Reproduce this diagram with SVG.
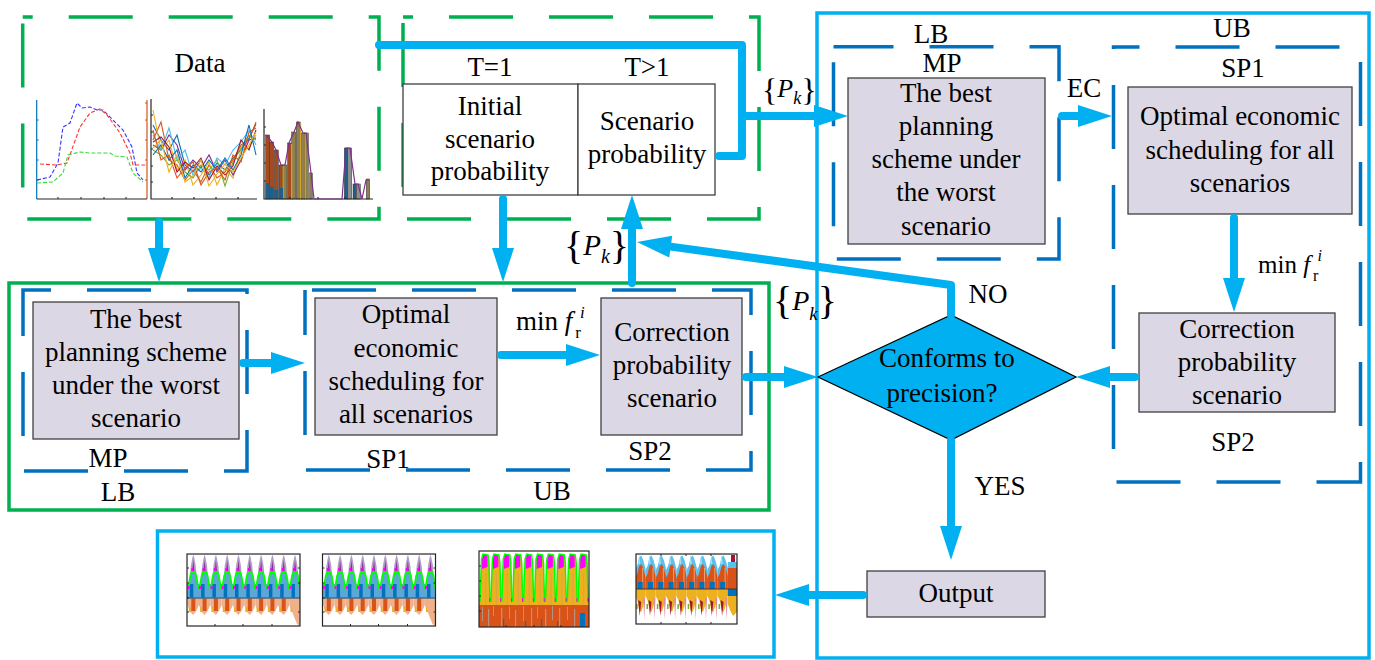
<svg xmlns="http://www.w3.org/2000/svg" xmlns:xlink="http://www.w3.org/1999/xlink" width="1375" height="660" viewBox="0 0 1375 660" font-family="'Liberation Serif', 'DejaVu Serif', serif">
<style>
text{font-family:'Liberation Serif','DejaVu Serif',serif}
.t{font-size:27px;fill:#000;text-anchor:middle}
.s{fill:#000}
.it{font-style:italic}
.box{fill:#DCD7E5;stroke:#3F3F3F;stroke-width:1.3}
.wbox{fill:#fff;stroke:#3F3F3F;stroke-width:1.3}
.gdash{fill:none;stroke:#00B050;stroke-width:3.5;stroke-dasharray:64 36}
.bdash{fill:none;stroke:#0070C0;stroke-width:3.5;stroke-dasharray:64 36}
.panel{fill:none;stroke:#00B0F0;stroke-width:3.5}
.conn{fill:none;stroke:#00B0F0;stroke-width:8;stroke-linecap:round;stroke-linejoin:round}
.frame{fill:none;stroke:#262626;stroke-width:1.2}
.ln{fill:none;stroke-width:1.1}
</style>
<defs>
<marker id="ah" markerUnits="userSpaceOnUse" markerWidth="34" markerHeight="22" viewBox="0 0 34 22" refX="0" refY="11" orient="auto" overflow="visible">
<path d="M0,0 L34,11 L0,22 Z" fill="#00B0F0"/>
</marker>
<clipPath id="cA"><rect width="113" height="72"/></clipPath>
<clipPath id="cC"><rect width="110" height="76"/></clipPath>
<clipPath id="cD"><rect width="101" height="70"/></clipPath>
<g id="perA">
<polygon points="-5.65,44 -5.65,51 -3,58 0,61 3,57 5.65,51 5.65,44" fill="#EFB08A"/>
<rect x="-4.5" y="53" width="2" height="5" fill="#EDB120"/>
<rect x="-2" y="44" width="4" height="13" fill="#D95319"/>
<polygon points="-4,30 -2.5,12 -1,4 0,0.5 1,4 2.5,12 4,30" fill="#B59BCB"/>
<polygon points="-1.5,22 0,6 1.5,22" fill="#7E2F8E"/>
<polygon points="-4.5,30 -2.5,21 0,17 2.5,21 4.5,30" fill="#5AA7D8"/>
<rect x="-3.5" y="30" width="3.5" height="14" fill="#0072BD"/>
<polyline points="-5.65,34 -5,34 -3,22 -1.5,18 1.5,18 3,22 5,34 5.65,34" fill="none" stroke="#00FF00" stroke-width="1.8"/>
<rect x="-5.5" y="32" width="2" height="3" fill="#FF00FF"/>
<rect x="-2" y="14" width="2" height="3" fill="#FF00FF"/>
</g>
<g id="chartA">
<rect width="113" height="72" fill="#fff"/>
<g clip-path="url(#cA)">
<rect x="0" y="30" width="113" height="14" fill="#5AA7D8"/>
<use href="#perA" x="6.3"/><use href="#perA" x="17.6"/><use href="#perA" x="28.9"/><use href="#perA" x="40.2"/><use href="#perA" x="51.5"/>
<use href="#perA" x="62.8"/><use href="#perA" x="74.1"/><use href="#perA" x="85.4"/><use href="#perA" x="96.7"/><use href="#perA" x="108"/>
<polygon points="102,44 113,44 113,72 110,70 106,60" fill="#EFB08A"/>
<line x1="0" y1="44" x2="113" y2="44" stroke="#4A6A88" stroke-width="1.6"/>
</g>
<rect class="frame" width="113" height="72"/>
<path d="M28,72v-2M56,72v-2M85,72v-2M0,14h2M0,29h2M0,44h2M0,58h2M113,14h-2M113,29h-2M113,58h-2" stroke="#262626" stroke-width="1"/>
</g>
<g id="perC">
<polygon points="-5.45,54 -5.45,50 -5,50 -3.5,8 -2,3 3,4 4,12 5,50 5.45,50 5.45,54" fill="#EDB120"/>
<rect x="0" y="22" width="1.2" height="32" fill="#D9A050" opacity="0.7"/>
<polygon points="-3.3,9 -2,3.5 2.5,4.5 2.5,16 -3,18" fill="#FF00FF"/>
<polyline points="-5.45,50 -5,50 -3.5,8 -2,3 3,4 4,12 5,50 5.45,50" fill="none" stroke="#00FF00" stroke-width="1.5"/>
<rect x="4.3" y="47" width="1.5" height="4" fill="#FF00FF"/>
</g>
<g id="perD">
<polygon points="-5.15,35 -5.15,16 -3,12 -1,3 1,1.5 3,6 5.15,14 5.15,35" fill="#5BC0EB"/>
<polygon points="-2,10 -1,0.5 0,10" fill="#A9DDF3"/>
<polygon points="-5.15,35 -5.15,24 -3,20 -1,12 1,10 3,14 5.15,22 5.15,35" fill="#D95319"/>
<rect x="2" y="14" width="1" height="21" fill="#F0A070"/>
<rect x="-2.5" y="28" width="5" height="7" fill="#0072BD"/>
<polygon points="-5.15,35 -5.15,42 -3,46 -1,56 1,58 3,52 5.15,42 5.15,35" fill="#EDB120"/>
<polygon points="-2,46 -0.5,62 1,48" fill="#A2142F"/>
<polygon points="3,44 4,66 5,44" fill="#D98CA0"/>
<rect x="-4" y="50" width="1.5" height="5" fill="#77AC30"/>
</g>
</defs>

<rect width="1375" height="660" fill="#fff"/>

<!-- panels -->
<g id="panels">
<rect x="9" y="283" width="760" height="227" fill="none" stroke="#00B050" stroke-width="3.5"/>
<rect x="157.5" y="531" width="616.5" height="126" class="panel"/>
<rect x="817" y="13" width="552" height="645" class="panel"/>
<rect x="22.7" y="17" width="356.3" height="202" class="gdash" stroke-dashoffset="54"/>
<rect x="403" y="17" width="356" height="202" class="gdash" stroke-dashoffset="54"/>
<rect x="23" y="290" width="224" height="181" class="bdash" stroke-dashoffset="36"/>
<rect x="305" y="290" width="446" height="180" class="bdash" stroke-dashoffset="93"/>
<rect x="833.5" y="46.7" width="225.5" height="212.3" class="bdash" stroke-dashoffset="4"/>
<rect x="1113.5" y="47" width="247" height="435" class="bdash" stroke-dashoffset="38"/>
</g>

<!-- Data node -->
<g id="data">
<text class="t" x="200" y="72">Data</text>
<g id="chart-load">
<line x1="36.7" y1="100" x2="36.7" y2="199" stroke="#0072BD" stroke-width="1.2"/>
<line x1="147" y1="100" x2="147" y2="199" stroke="#D95319" stroke-width="1.2"/>
<line x1="36.7" y1="199" x2="147" y2="199" stroke="#262626" stroke-width="1.2"/>
<path d="M36.7,120h2M36.7,140h2M36.7,160h2M36.7,180h2" stroke="#0072BD" stroke-width="1"/>
<path d="M147,103h-2M147,120h-2M147,140h-2M147,160h-2M147,180h-2" stroke="#D95319" stroke-width="1"/>
<path d="M58,199v-2M81,199v-2M104,199v-2M126,199v-2" stroke="#262626" stroke-width="1"/>
<polyline class="ln" stroke="#3333FF" stroke-dasharray="4 2" points="37,180 50,177 58,163 63,127 70,123 77,103 82,108 90,107 97,110 103,110 113,120 123,130 132,147 137,173 143,180"/>
<polyline class="ln" stroke="#FF3333" stroke-dasharray="4 2" points="40,164 57,165 67,163 80,127 90,113 100,109 107,115 120,133 130,153 133,165 147,165"/>
<polyline class="ln" stroke="#33DD33" stroke-dasharray="4 2" points="37,183 53,182 63,173 68,155 80,152 90,153 110,153 115,156 127,157 133,173 143,182"/>
</g>
<g id="chart-scen">
<path d="M151,99V199H257M151,115h2M151,132h2M151,149h2M151,166h2M151,182h2M172,199v-2M194,199v-2M216,199v-2M238,199v-2" fill="none" stroke="#262626" stroke-width="1.2"/>
<polyline class="ln" stroke="#0072BD" points="153,125 161,140 169,150 177,135 185,165 193,172 201,160 209,175 217,163 225,170 233,158 241,150 249,138 256,124"/>
<polyline class="ln" stroke="#D95319" points="153,140 161,122 169,160 177,165 185,180 193,170 201,182 209,165 217,178 225,172 233,160 241,145 249,140 256,122"/>
<polyline class="ln" stroke="#EDB120" points="153,110 161,150 169,140 177,170 185,160 193,185 201,175 209,162 217,185 225,168 233,178 241,150 249,148 256,135"/>
<polyline class="ln" stroke="#7E2F8E" points="153,145 161,150 169,135 177,145 185,170 193,160 201,168 209,155 217,172 225,160 233,175 241,160 249,140 256,138"/>
<polyline class="ln" stroke="#77AC30" points="153,150 161,155 169,165 177,160 185,172 193,178 201,165 209,170 217,160 225,186 233,162 241,148 249,135 256,140"/>
<polyline class="ln" stroke="#4DBEEE" points="153,135 161,150 169,128 177,160 185,150 193,175 201,168 209,178 217,158 225,165 233,150 241,142 249,130 256,145"/>
<polyline class="ln" stroke="#A2142F" points="153,142 161,137 169,147 177,172 185,162 193,168 201,158 209,180 217,166 225,175 233,166 241,140 249,150 256,130"/>
<polyline class="ln" stroke="#0072BD" points="153,155 161,145 169,160 177,150 185,178 193,165 201,172 209,160 217,170 225,158 233,170 241,155 249,125 256,155"/>
<polyline class="ln" stroke="#D95319" points="153,130 161,160 169,155 177,178 185,168 193,162 201,185 209,172 217,168 225,180 233,155 241,162 249,132 256,128"/>
<polyline class="ln" stroke="#EDB120" points="153,148 161,140 169,172 177,155 185,182 193,176 201,160 209,186 217,174 225,164 233,172 241,158 249,145 256,132"/>
</g>
<g id="chart-bars" stroke="#333" stroke-width="0.5">
<rect x="265.7" y="135" width="4" height="64" fill="#A34A1E"/>
<rect x="269.7" y="142" width="4" height="57" fill="#A34A1E"/>
<rect x="274.3" y="150" width="4" height="49" fill="#A34A1E"/>
<rect x="279" y="165" width="4" height="34" fill="#A34A1E"/>
<rect x="283" y="165" width="4" height="34" fill="#8F8050"/>
<rect x="287.7" y="143" width="3.6" height="56" fill="#A34A1E"/>
<rect x="291.7" y="132" width="4" height="67" fill="#8F8050"/>
<rect x="296.3" y="122" width="4" height="77" fill="#8F8050"/>
<rect x="301" y="133" width="3.4" height="66" fill="#8F8050"/>
<rect x="304.3" y="133" width="4" height="66" fill="#8F8050"/>
<rect x="309.7" y="173" width="2.6" height="26" fill="#8F8050"/>
<rect x="344.3" y="148" width="3.4" height="51" fill="#1F5F8B"/>
<rect x="347.7" y="148" width="4" height="51" fill="#8F8F8F"/>
<rect x="353" y="184" width="3.3" height="15" fill="#1F5F8B"/>
<rect x="356.3" y="184" width="4" height="15" fill="#8F8F8F"/>
<rect x="366.3" y="179" width="3.4" height="20" fill="#8F8050"/>
<g stroke="none">
<rect x="265.7" y="183" width="4" height="16" fill="#1F5F8B"/>
<rect x="269.7" y="187" width="4" height="12" fill="#1F5F8B"/>
<rect x="274.3" y="190" width="4" height="9" fill="#1F5F8B"/>
<rect x="282.6" y="166" width="1" height="33" fill="#EDB120"/>
<rect x="291.2" y="144" width="1" height="55" fill="#EDB120"/>
<rect x="300.2" y="123" width="1" height="76" fill="#EDB120"/>
<rect x="304.6" y="134" width="1" height="65" fill="#EDB120"/>
<rect x="279" y="188" width="4" height="11" fill="#1F5F8B"/>
</g>
<path d="M264,109V199H373M264,127h2M264,145h2M264,163h2M264,181h2M290,199v-2M318,199v-2M345,199v-2" fill="none" stroke="#262626" stroke-width="1.2"/>
<polyline fill="none" stroke="#7E2F8E" stroke-width="1.2" points="266,135 272,142 276,150 281,165 285,165 289,143 294,132 298,122 303,133 306,133 311,173 314,199 342,199 346,148 350,148 355,184 358,184 362,199 366,180 369,180"/>
</g>
</g>

<!-- scenario probability node -->
<g id="prob">
<text class="t" x="490" y="76">T=1</text>
<text class="t" x="647" y="76">T&gt;1</text>
<rect class="wbox" x="403" y="84" width="175" height="111"/>
<rect class="wbox" x="578" y="84" width="137" height="111"/>
<text class="t"><tspan x="490" y="115">Initial</tspan><tspan x="490" y="148">scenario</tspan><tspan x="490" y="180">probability</tspan></text>
<text class="t"><tspan x="647" y="130">Scenario</tspan><tspan x="647" y="163">probability</tspan></text>
</g>

<!-- left loop -->
<g id="mp-left">
<rect class="box" x="33" y="302" width="206" height="137"/>
<text class="t"><tspan x="136" y="328">The best</tspan><tspan x="136" y="361">planning scheme</tspan><tspan x="136" y="394">under the worst</tspan><tspan x="136" y="427">scenario</tspan></text>
<text class="t" x="108" y="467">MP</text>
<text class="t" x="118" y="501">LB</text>
</g>
<g id="sp1-left">
<rect class="box" x="315" y="298" width="182" height="137"/>
<text class="t"><tspan x="406" y="323">Optimal</tspan><tspan x="406" y="357">economic</tspan><tspan x="406" y="390">scheduling for</tspan><tspan x="406" y="423">all scenarios</tspan></text>
<text class="t" x="388" y="468">SP1</text>
<text class="t" x="552" y="500">UB</text>
</g>
<g id="sp2-left">
<rect class="box" x="601" y="298" width="141" height="137"/>
<text class="t"><tspan x="672" y="341">Correction</tspan><tspan x="672" y="374">probability</tspan><tspan x="672" y="407">scenario</tspan></text>
<text class="t" x="650" y="460">SP2</text>
</g>

<!-- right loop -->
<g id="mp-right">
<text class="t" x="931" y="43">LB</text>
<text class="t" x="942" y="72">MP</text>
<rect class="box" x="848" y="78" width="197" height="166"/>
<text class="t"><tspan x="946" y="102">The best</tspan><tspan x="946" y="135">planning</tspan><tspan x="946" y="168">scheme under</tspan><tspan x="946" y="201">the worst</tspan><tspan x="946" y="235">scenario</tspan></text>
</g>
<g id="sp1-right">
<text class="t" x="1232" y="37">UB</text>
<text class="t" x="1243" y="77">SP1</text>
<rect class="box" x="1128" y="87" width="224" height="127"/>
<text class="t"><tspan x="1240" y="125">Optimal economic</tspan><tspan x="1240" y="159">scheduling for all</tspan><tspan x="1240" y="192">scenarios</tspan></text>
</g>
<g id="sp2-right">
<rect class="box" x="1139" y="313" width="196" height="99"/>
<text class="t"><tspan x="1237" y="338">Correction</tspan><tspan x="1237" y="371">probability</tspan><tspan x="1237" y="404">scenario</tspan></text>
<text class="t" x="1233" y="451">SP2</text>
</g>
<g id="decision">
<polygon points="818,377 951,315 1076,377 951,440" fill="#00B0F0" stroke="#000" stroke-width="1.2"/>
<text class="t"><tspan x="947" y="367">Conforms to</tspan><tspan x="942" y="402">precision?</tspan></text>
</g>
<g id="output">
<rect class="box" x="867" y="571" width="178" height="46"/>
<text class="t" x="956" y="602">Output</text>
</g>

<!-- result charts -->
<g id="results">
<use href="#chartA" transform="translate(187,554)"/>
<use href="#chartA" transform="translate(322.5,554)"/>
<g id="chartC" transform="translate(479,551)">
<rect width="110" height="76" fill="#fff"/>
<g clip-path="url(#cC)">
<rect x="0" y="48" width="110" height="8" fill="#EDB120"/>
<rect x="0" y="54" width="110" height="22" fill="#D95319"/>
<g fill="#A8A8A8" opacity="0.75">
<rect x="3" y="56" width="1" height="14"/><rect x="9" y="58" width="1.2" height="18"/><rect x="14" y="55" width="1" height="10"/><rect x="22" y="57" width="1.3" height="19"/>
<rect x="30" y="56" width="1" height="12"/><rect x="36" y="59" width="1.2" height="17"/><rect x="44" y="55" width="1" height="15"/><rect x="52" y="57" width="1.2" height="19"/>
<rect x="58" y="56" width="1" height="11"/><rect x="66" y="58" width="1.3" height="18"/><rect x="73" y="55" width="1" height="14"/><rect x="80" y="57" width="1.2" height="19"/>
<rect x="88" y="56" width="1" height="13"/><rect x="95" y="58" width="1.2" height="18"/>
</g>
<g fill="#0072BD">
<rect x="101" y="62" width="5" height="14"/><rect x="24" y="68" width="1.2" height="8"/><rect x="46" y="70" width="1.2" height="6"/><rect x="62" y="68" width="1.2" height="8"/><rect x="78" y="70" width="1.2" height="6"/>
</g>
<use href="#perC" x="6"/><use href="#perC" x="16.9"/><use href="#perC" x="27.8"/><use href="#perC" x="38.7"/><use href="#perC" x="49.6"/>
<use href="#perC" x="60.5"/><use href="#perC" x="71.4"/><use href="#perC" x="82.3"/><use href="#perC" x="93.2"/><use href="#perC" x="104.1"/>
</g>
<rect class="frame" width="110" height="76"/>
<path d="M27,76v-2M55,76v-2M82,76v-2M0,15h2M0,30h2M0,45h2M0,60h2" stroke="#262626" stroke-width="1"/>
</g>
<g id="chartD" transform="translate(636,554)">
<rect width="101" height="70" fill="#fff"/>
<g clip-path="url(#cD)">
<use href="#perD" x="4.2"/><use href="#perD" x="14.5"/><use href="#perD" x="24.8"/><use href="#perD" x="35.1"/><use href="#perD" x="45.4"/>
<use href="#perD" x="55.7"/><use href="#perD" x="66"/><use href="#perD" x="76.3"/><use href="#perD" x="86.6"/>
<rect x="91.75" y="14" width="9.25" height="21" fill="#D95319"/>
<rect x="91.75" y="8" width="9.25" height="6" fill="#5BC0EB"/>
<rect x="95" y="1" width="4" height="7" fill="#A2142F"/>
<rect x="91.75" y="35" width="9.25" height="7" fill="#0072BD"/>
<polygon points="91.75,42 101,42 101,58 97,62 94,56 91.75,50" fill="#EDB120"/>
<line x1="0" y1="35" x2="101" y2="35" stroke="#3A3A3A" stroke-width="1"/>
</g>
<rect class="frame" width="101" height="70"/>
<path d="M25,0v2M50,0v2M75,0v2M25,70v-2M50,70v-2M75,70v-2" stroke="#262626" stroke-width="1"/>
</g>
</g>

<!-- labels -->
<g id="labels">
<text class="t" x="1084" y="97">EC</text>
<text class="t" x="988" y="303">NO</text>
<text class="t" x="1000" y="495">YES</text>
<text id="pk1" class="s" x="762" y="101" font-size="32">{<tspan class="it" font-size="26" dy="-4">P</tspan><tspan class="it" font-size="18" dy="7">k</tspan><tspan dy="-3">}</tspan></text>
<text id="pk2" class="s" x="564" y="259" font-size="40">{<tspan class="it" font-size="29" dy="-4">P</tspan><tspan class="it" font-size="20" dy="8">k</tspan><tspan dy="-4">}</tspan></text>
<text id="pk3" class="s" x="773" y="314" font-size="40">{<tspan class="it" font-size="28" dy="-4">P</tspan><tspan class="it" font-size="19" dy="10">k</tspan><tspan dy="-6">}</tspan></text>
<text id="minf1" class="s" x="516" y="330" font-size="27">min <tspan class="it">f</tspan><tspan font-size="17" dy="8" dx="3">r</tspan><tspan class="it" font-size="17" dy="-20" dx="-1">i</tspan></text>
<text id="minf2" class="s" x="1258" y="273" font-size="25">min <tspan class="it">f</tspan><tspan font-size="16" dy="8" dx="3">r</tspan><tspan class="it" font-size="16" dy="-20" dx="-1">i</tspan></text>
</g>

<!-- connectors -->
<g id="connectors">
<path class="conn" d="M379,45 H742 V156 H719"/>
<path class="conn" d="M742,116 H814" marker-end="url(#ah)"/>
<path class="conn" d="M159,222 V248" marker-end="url(#ah)"/>
<path class="conn" d="M503,199 V248" marker-end="url(#ah)"/>
<path class="conn" d="M632,283 V229" marker-end="url(#ah)"/>
<path class="conn" d="M243,363 H271" marker-end="url(#ah)"/>
<path class="conn" d="M501,355 H566" marker-end="url(#ah)"/>
<path class="conn" d="M746,377 H784" marker-end="url(#ah)"/>
<path class="conn" d="M951,315 V285 L670.7,246.6" marker-end="url(#ah)"/>
<path class="conn" d="M951,440 V526" marker-end="url(#ah)"/>
<path class="conn" d="M1062,116 H1078" marker-end="url(#ah)"/>
<path class="conn" d="M1234,218 V278" marker-end="url(#ah)"/>
<path class="conn" d="M1135,377 H1110" marker-end="url(#ah)"/>
<path class="conn" d="M863,595 H809" marker-end="url(#ah)"/>
</g>
</svg>
